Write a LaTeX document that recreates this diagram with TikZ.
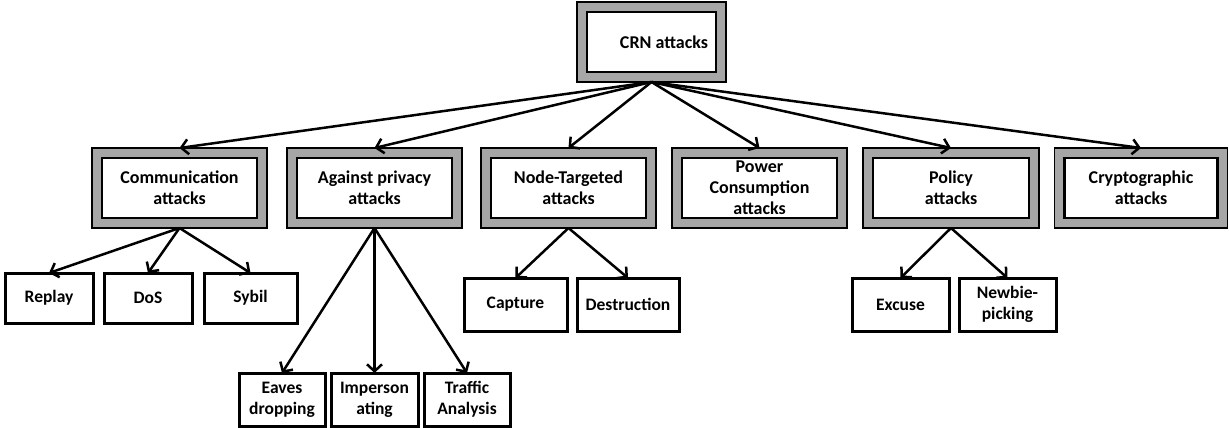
\documentclass[tikz,border=0pt]{standalone}
\usepackage{fontspec}
\setmainfont{Carlito}
\usetikzlibrary{arrows.meta}
\definecolor{boxgray}{HTML}{A6A6A6}
\begin{document}
\begin{tikzpicture}[x=1pt,y=-1pt,
  outerbox/.style={draw=black, line width=1.6pt, fill=boxgray, minimum width=#1, minimum height=80pt, inner sep=0pt, outer sep=0pt},
  innerbox/.style={draw=black, line width=2.4pt, fill=white, minimum width=#1, minimum height=60pt, inner sep=0pt, align=center,
    font=\fontsize{18}{21}\selectfont\bfseries},
  leafbox/.style={draw=black, line width=3pt, fill=white, minimum width=#1, inner sep=0pt, outer sep=0pt, align=center,
    font=\fontsize{17.5}{21}\selectfont\bfseries},
  arr/.style={line width=2.5pt, -{Straight Barb[length=7pt,width=15pt]}}
]
\useasboundingbox (0,0) rectangle (1229,428);

% root
\node[outerbox=149] (crn) at (651.5,42) {};
\node[innerbox=129] (crni) at (crn) {};
\node[font=\fontsize{18}{21}\selectfont\bfseries] (crnt) at (664,42) {CRN attacks};

% level 2
\node[outerbox=175] (comm) at (179.5,188) {};
\node[innerbox=155] (commi) at (comm) {Communication\\attacks};
\node[outerbox=175] (priv) at (374.5,188) {};
\node[innerbox=155] (privi) at (priv) {Against privacy\\attacks};
\node[outerbox=175] (nodet) at (568.5,188) {};
\node[innerbox=155] (nodeti) at (nodet) {Node-Targeted\\attacks};
\node[outerbox=175] (power) at (759.5,188) {};
\node[innerbox=155] (poweri) at (power) {Power\\Consumption\\attacks};
\node[outerbox=176] (policy) at (951,188) {};
\node[innerbox=156] (policyi) at (policy) {Policy\\attacks};
\node[outerbox=173] (crypto) at (1141,188) {};
\node[innerbox=153] (cryptoi) at (crypto) {Cryptographic\\attacks};

% level 3
\node[leafbox=88, minimum height=50pt] (replay) at (49,298) {Replay};
\node[leafbox=88, minimum height=50pt] (dos) at (148,298) {DoS};
\node[leafbox=93, minimum height=50pt] (sybil) at (250.5,298) {Sybil};

\node[leafbox=86, minimum height=53pt] (eaves) at (282,399.5) {Eaves\\dropping};
\node[leafbox=87, minimum height=53pt] (imper) at (374.5,399.5) {Imperson\\ating};
\node[leafbox=86, minimum height=53pt] (traffic) at (467,399.5) {Traffic\\Analysis};

\node[leafbox=103, minimum height=53pt] (capture) at (515.5,304.5) {Capture};
\node[leafbox=102, minimum height=53pt] (destr) at (628,304.5) {Destruction};

\node[leafbox=97, minimum height=53pt] (excuse) at (900.5,304.5) {Excuse};
\node[leafbox=97, minimum height=53pt] (newbie) at (1007.5,304.5) {Newbie-\\picking};

% connectors
\foreach \t in {comm,priv,nodet,power,policy,crypto}
  \draw[arr] (crn.south) -- (\t.north);
\foreach \t in {replay,dos,sybil}
  \draw[arr] (comm.south) -- (\t.north);
\foreach \t in {eaves,imper,traffic}
  \draw[arr] (priv.south) -- (\t.north);
\foreach \t in {capture,destr}
  \draw[arr] (nodet.south) -- (\t.north);
\foreach \t in {excuse,newbie}
  \draw[arr] (policy.south) -- (\t.north);
\end{tikzpicture}
\end{document}
